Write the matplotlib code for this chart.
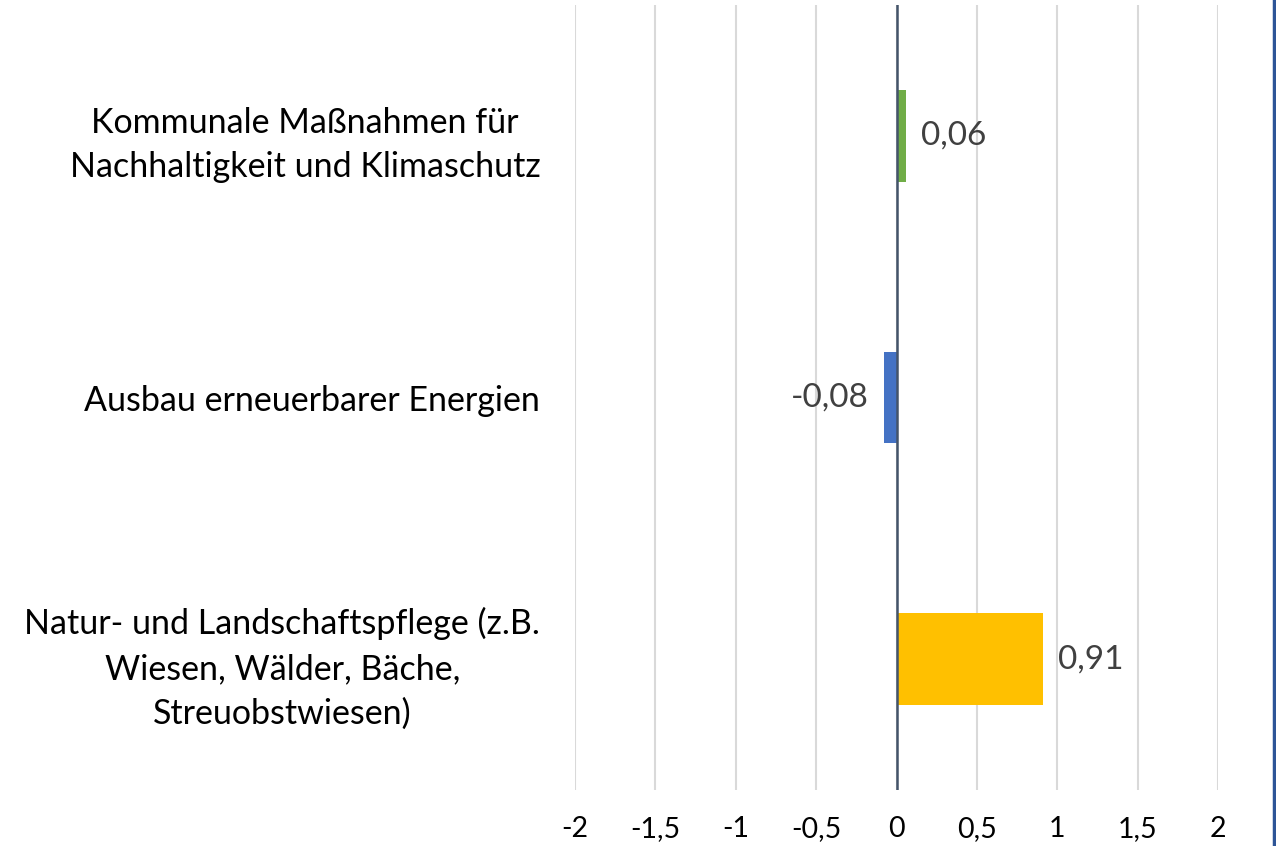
import matplotlib
matplotlib.use('Agg')
import matplotlib.pyplot as plt
from matplotlib.lines import Line2D

# Daten
kategorien = ['Natur- und Landschaftspflege (z.B.\nWiesen, Wälder, Bäche,\nStreuobstwiesen)',
              'Ausbau erneuerbarer Energien',
              'Kommunale Maßnahmen für\nNachhaltigkeit und Klimaschutz']
werte = [0.91, -0.08, 0.06]
farben = ['#FFC000', '#4472C4', '#70AD47']
x_ticks = [-2, -1.5, -1, -0.5, 0, 0.5, 1, 1.5, 2]
x_labels = ['-2', '-1,5', '-1', '-0,5', '0', '0,5', '1', '1,5', '2']

plt.rcParams['font.family'] = ['Lato', 'DejaVu Sans']

fig = plt.figure(figsize=(12.76, 8.46), dpi=100)
ax = fig.add_axes([575/1276, 1-790/846, (1218-575)/1276, (790-5)/846])

y = range(len(kategorien))
bars = ax.barh(y, werte, height=0.35, color=farben, zorder=3)
ax.set_ylim(-0.5, len(kategorien)-0.5)
ax.set_xlim(-2, 2)

ax.set_xticks(x_ticks)
ax.set_xticklabels(x_labels, fontsize=20.5, color='#000000')
ax.set_yticks(list(y))
ax.set_yticklabels(kategorien, fontsize=24.5, color='#000000',
                   multialignment='center', linespacing=1.48)
ax.tick_params(axis='x', length=0, pad=19)
ax.tick_params(axis='y', length=0, pad=25)

ax.grid(axis='x', color='#D9D9D9', linewidth=1.5, zorder=0)
ax.axvline(0, color='#44546A', linewidth=1.8, zorder=4)
for s in ax.spines.values():
    s.set_visible(False)

labels = [f'{v:.2f}'.replace('.', ',') for v in werte]
ax.bar_label(bars, labels=labels, padding=11, fontsize=24, color='#404040')

# blauer Rand rechts
fig.add_artist(Line2D([1274/1276, 1274/1276], [0, 1], color='#2E5597', linewidth=2.5, transform=fig.transFigure))

fig.savefig('out.png', dpi=100)
